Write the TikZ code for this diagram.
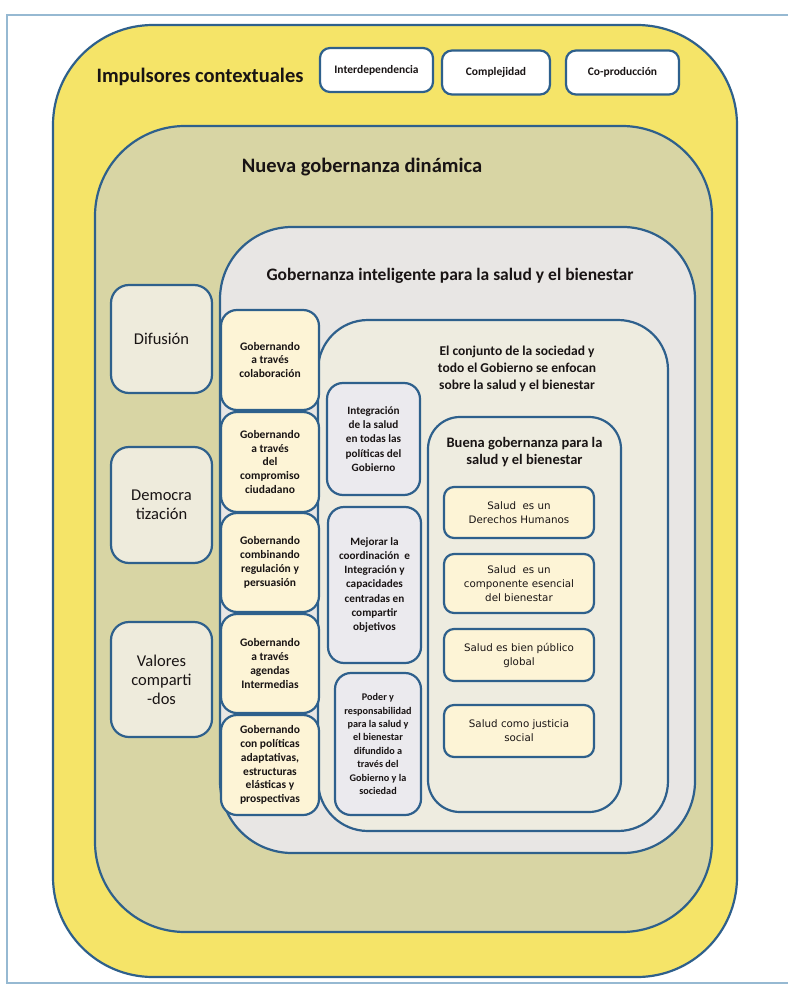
\documentclass[tikz,border=0pt]{standalone}
\usepackage{fontspec}
\setmainfont{Carlito}
\newfontfamily\tahoma{DejaVu Sans}
\definecolor{yellowc}{RGB}{245,228,104}
\definecolor{olivec}{RGB}{216,213,164}
\definecolor{grayc}{RGB}{232,230,228}
\definecolor{midc}{RGB}{238,236,224}
\definecolor{creamc}{RGB}{253,244,214}
\definecolor{gboxc}{RGB}{235,234,238}
\definecolor{lboxc}{RGB}{238,235,220}
\definecolor{framec}{RGB}{150,185,210}
\definecolor{bord}{RGB}{46,96,140}
\definecolor{txt}{RGB}{25,20,20}
\tikzset{
  region/.style={draw=bord, line width=2.2pt},
  box/.style={draw=bord, line width=2.2pt, align=center, inner sep=0pt, text=txt},
  topbox/.style={box, fill=white, rounded corners=10pt, minimum height=44pt, font=\bfseries\fontsize{11.5}{13}\selectfont},
  leftbox/.style={box, fill=lboxc, rounded corners=18pt, minimum width=101pt, font=\fontsize{16.5}{19}\selectfont},
  creambox/.style={box, fill=creamc, rounded corners=16pt, minimum width=98pt, font=\bfseries\fontsize{11.5}{13.8}\selectfont},
  grbox/.style={box, fill=gboxc, rounded corners=16pt, font=\bfseries\fontsize{11.2}{14.2}\selectfont},
  saludbox/.style={box, fill=creamc, rounded corners=10pt, minimum width=150pt, font=\tahoma\fontsize{10.3}{14}\selectfont},
  title/.style={text=txt, align=center, inner sep=0pt}
}
\begin{document}
\begin{tikzpicture}[x=1pt,y=-1pt]
\useasboundingbox (0,0) rectangle (788,992);
\fill[white] (0,0) rectangle (788,992);
% frame
\draw[framec, line width=1.5pt] (788,15) -- (7,15) -- (7,983) -- (788,983);
% containers
\draw[region, fill=yellowc, rounded corners=100pt] (53,25) rectangle (737,977);
\draw[region, fill=olivec, rounded corners=90pt] (95,126) rectangle (712,932);
\draw[region, fill=grayc, rounded corners=72pt] (220,227) rectangle (695,853);
\draw[region, fill=midc, rounded corners=50pt] (318,320) rectangle (668,831);
\draw[region, fill=midc, rounded corners=32pt] (428,417) rectangle (621,812);
% titles
\node[title, font=\bfseries\fontsize{20.5}{24}\selectfont] (impulsores) at (200,77) {Impulsores contextuales};
\node[title, font=\bfseries\fontsize{20.5}{24}\selectfont] (nueva) at (362,167) {Nueva gobernanza dinámica};
\node[title, font=\bfseries\fontsize{17.5}{20}\selectfont] (inteligente) at (450,276) {Gobernanza inteligente para la salud y el bienestar};
\node[title, font=\bfseries\fontsize{13.5}{17}\selectfont] (conjunto) at (517,369) {El conjunto de la sociedad y\\todo el Gobierno se enfocan\\sobre la salud y el bienestar};
\node[title, font=\bfseries\fontsize{14.5}{17}\selectfont] (buena) at (524.5,452) {Buena gobernanza para la\\salud y el bienestar};
% top boxes
\node[topbox, minimum width=113pt] (inter) at (376.5,70) {Interdependencia};
\node[topbox, minimum width=108pt] (compl) at (496,72.5) {Complejidad};
\node[topbox, minimum width=113pt] (coprod) at (622.5,72.5) {Co-producción};
% left boxes
\node[leftbox, minimum height=108pt] (difusion) at (161.5,339) {Difusión};
\node[leftbox, minimum height=116pt] (democ) at (161.5,505) {Democra\\tización};
\node[leftbox, minimum height=115pt] (valores) at (161.5,679.5) {Valores\\comparti\\-dos};
% cream boxes
\node[creambox, minimum height=100pt] (c1) at (270,360) {Gobernando\\a través\\colaboración};
\node[creambox, minimum height=100pt] (c2) at (270,462) {Gobernando\\a través\\del\\compromiso\\ciudadano};
\node[creambox, minimum height=99pt] (c3) at (270,562.5) {Gobernando\\combinando\\regulación y\\persuasión};
\node[creambox, minimum height=99pt] (c4) at (270,663.5) {Gobernando\\a través\\agendas\\Intermedias};
\node[creambox, minimum height=100pt] (c5) at (270,765) {Gobernando\\con políticas\\adaptativas,\\estructuras\\elásticas y\\prospectivas};
% gray boxes
\node[grbox, minimum width=93pt, minimum height=112pt] (g1) at (373.5,439) {Integración\\de la salud\\en todas las\\políticas del\\Gobierno};
\node[grbox, minimum width=93pt, minimum height=156pt] (g2) at (374.5,585) {Mejorar la\\coordinación \ e\\Integración y\\capacidades\\centradas en\\compartir\\objetivos};
\node[grbox, minimum width=86pt, minimum height=142pt, font=\bfseries\fontsize{10.2}{13.4}\selectfont] (g3) at (378,744) {Poder y\\responsabilidad\\para la salud y\\el bienestar\\difundido a\\través del\\Gobierno y la\\sociedad};
% salud boxes
\node[saludbox, minimum height=51pt] (s1) at (519,512.5) {Salud \ es un\\Derechos Humanos};
\node[saludbox, minimum height=59pt] (s2) at (519,583.5) {Salud \ es un\\componente esencial\\del bienestar};
\node[saludbox, minimum height=52pt] (s3) at (519,655) {Salud es bien público\\global};
\node[saludbox, minimum height=52pt] (s4) at (519,731) {Salud como justicia\\social};
\end{tikzpicture}
\end{document}
